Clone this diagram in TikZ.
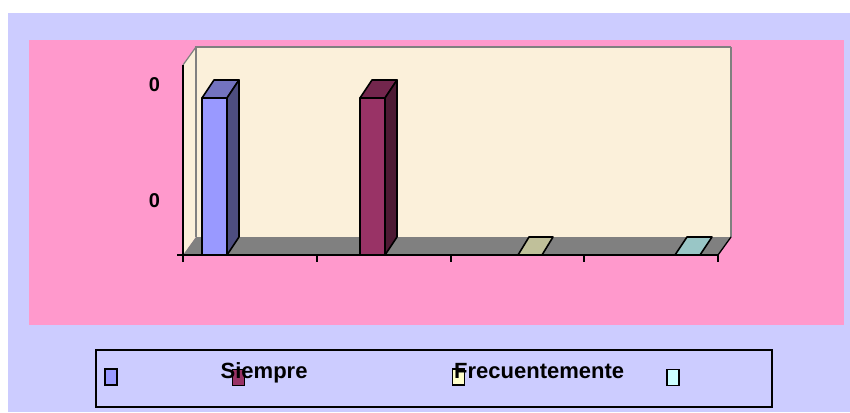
\documentclass[tikz,border=0pt]{standalone}
\usepackage{fontspec}
\setmainfont{Liberation Sans}
\definecolor{lav}{HTML}{CCCCFF}
\definecolor{pinkbg}{HTML}{FF99CC}
\definecolor{wall}{HTML}{FBF0DA}
\definecolor{floorgray}{HTML}{808080}
\definecolor{bluef}{HTML}{9999FF}
\definecolor{blues}{HTML}{4D4D80}
\definecolor{bluet}{HTML}{7373BF}
\definecolor{marf}{HTML}{993366}
\definecolor{mars}{HTML}{4D1A33}
\definecolor{mart}{HTML}{73264D}
\definecolor{yelf}{HTML}{FFFFCC}
\definecolor{yelt}{HTML}{C0C09A}
\definecolor{cyaf}{HTML}{CCFFFF}
\definecolor{cyat}{HTML}{99C6C6}
\tikzset{
  barline/.style={draw=black,line width=1.6pt,line join=round},
  axisline/.style={draw=black,line width=1.5pt},
  wallline/.style={draw=floorgray,line width=1.2pt},
  legsq/.style={draw=black,line width=1.4pt,minimum width=12pt,minimum height=16pt,inner sep=0pt},
  legtxt/.style={font=\bfseries\fontsize{22}{24}\selectfont,inner sep=0pt,anchor=base west},
  ylab/.style={font=\bfseries\fontsize{20}{22}\selectfont,inner sep=0pt}
}
\begin{document}
\begin{tikzpicture}[x=1pt,y=-1pt]
\useasboundingbox (0,0) rectangle (850,412);
\fill[white] (0,0) rectangle (850,412);
\fill[lav] (8,13) rectangle (850,412);
\fill[pinkbg] (29,40) rectangle (844,325);
% walls
\fill[wall] (196,47) rectangle (731,237);
\fill[wall] (183,255) -- (183,65) -- (196,47) -- (196,237) -- cycle;
\draw[wallline] (196,237) -- (196,47) -- (731,47);
\draw[floorgray,line width=2.4pt] (731,47) -- (731,237);
\draw[wallline] (183,65) -- (196,47);
% floor
\fill[floorgray] (183,255) -- (718,255) -- (731,237) -- (196,237) -- cycle;
\draw[black,line width=1.3pt] (718,255) -- (731,237);
% axes
\coordinate (yb) at (183,262);
\coordinate (yt) at (183,65);
\draw[axisline] (yb) -- (yt);
\coordinate (xl) at (177,255);
\coordinate (xr) at (718,255);
\draw[axisline] (xl) -- (xr);
\foreach \x in {317,451,584,718} \draw[axisline] (\x,255) -- (\x,262);
% bar 1
\draw[barline,fill=bluef] (202,98) rectangle (227,255);
\draw[barline,fill=bluet] (202,98) -- (227,98) -- (239,80) -- (214,80) -- cycle;
\draw[barline,fill=blues] (227,98) -- (239,80) -- (239,237) -- (227,255) -- cycle;
% bar 2
\draw[barline,fill=marf] (360,98) rectangle (385,255);
\draw[barline,fill=mart] (360,98) -- (385,98) -- (397,80) -- (372,80) -- cycle;
\draw[barline,fill=mars] (385,98) -- (397,80) -- (397,237) -- (385,255) -- cycle;
% bar 3, 4 (zero height)
\draw[barline,fill=yelt] (518,255) -- (542,255) -- (553,237) -- (529,237) -- cycle;
\draw[barline,fill=cyat] (675,255) -- (700,255) -- (712,237) -- (687,237) -- cycle;
% y labels
\node[ylab] (y1) at (154.5,84.5) {0};
\node[ylab] (y2) at (154.5,201) {0};
% legend
\draw[black,line width=1.8pt] (96,350) rectangle (772,407);
\node[legsq,fill=bluef] (l1) at (111,377) {};
\node[legsq,fill=marf] (l2) at (238.7,377.3) {};
\node[legsq,fill=yelf] (l3) at (458.7,377) {};
\node[legsq,fill=cyaf] (l4) at (673,377.3) {};
\node[legtxt] (t2) at (220.5,378.5) {Siempre};
\node[legtxt] (t3) at (454,378.5) {Frecuentemente};
\end{tikzpicture}
\end{document}
